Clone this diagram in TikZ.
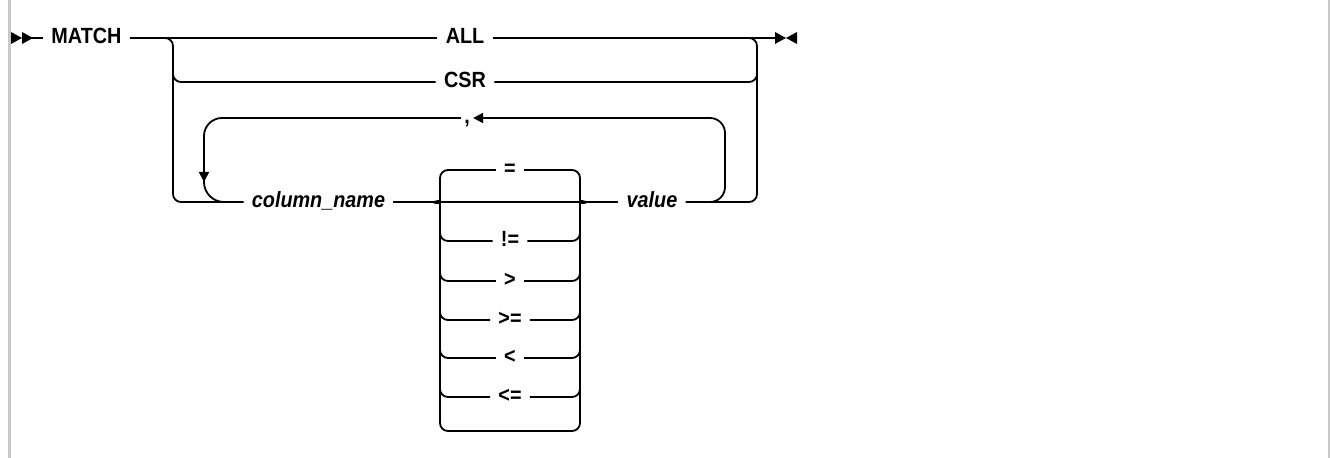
\documentclass[tikz,border=0pt]{standalone}
\usepackage{fontspec}
\setmainfont{Liberation Sans}[FakeStretch=0.9]
\usetikzlibrary{arrows.meta}
\newcommand\rrfont{\fontsize{11}{13}\selectfont\bfseries}
\definecolor{barc}{RGB}{200,200,200}
\begin{document}
\begin{tikzpicture}[x=0.5pt,y=-0.5pt,
  rr/.style={line width=0.9pt, rounded corners=4pt},
  lbl/.style={font=\rrfont, inner xsep=4pt, inner ysep=0pt, text height=7.9pt, text depth=1.9pt},
  var/.style={lbl, font=\rrfont\itshape},
  tipd/.style={-{Triangle[length=5pt,width=5pt]}}]
\useasboundingbox (0,0) rectangle (1330,458);
\fill[white] (0,0) rectangle (1330,458);
\fill[barc] (8,0) rectangle (11,458);
\fill[barc] (1328,0) rectangle (1330,458);

% labels
\node[lbl] (match) at (86.5,38) {MATCH};
\node[lbl] (all) at (465,38) {ALL};
\node[lbl] (csr) at (465,82) {CSR};
\node[lbl, inner xsep=1.5pt] (comma) at (467,118) {,};
\node[var] (col) at (318.5,202) {column\_name};
\node[var] (val) at (652,202) {value};
\node[lbl] (o1) at (510,170) {=};
\node[lbl] (o2) at (510,241) {!=};
\node[lbl] (o3) at (510,281) {>};
\node[lbl] (o4) at (510,320) {>=};
\node[lbl] (o5) at (510,358) {<};
\node[lbl] (o6) at (510,397) {<=};
\coordinate (tipL) at (433,202);
\coordinate (tipR) at (587,202);

% start and end markers
\fill (11,32) -- (22,38) -- (11,44) -- cycle;
\fill (22,32) -- (33,38) -- (22,44) -- cycle;
\fill (775,32) -- (786,38) -- (775,44) -- cycle;
\fill (797,32) -- (786,38) -- (797,44) -- cycle;

% main line
\draw[rr] (22,38) -- (match.west);
\draw[rr] (match.east) -- (all.west);
\draw[rr] (all.east) -- (776,38);

% outer choice
\draw[rr] (160,38) -- (173,38) -- (173,202) -- (col.west);
\draw[rr] (173,60) -- (173,82) -- (csr.west);
\draw[rr] (csr.east) -- (757,82) -- (757,60);
\draw[rr] (val.east) -- (757,202) -- (757,38) -- (740,38);

% repeat loop
\draw[line width=0.9pt, rounded corners=7.5pt, tipd] (690,202) -- (725,202) -- (725,118) -- (comma.east);
\draw[line width=0.9pt, rounded corners=9pt, tipd] (comma.west) -- (204,118) -- (204,182);
\draw[line width=0.9pt, rounded corners=10pt] (204,178) -- (204,202) -- (232,202);

% operator choice
\draw[rr] (col.east) -- (val.west);
\draw[rr] (tipL) to[out=0,in=-90] (440,195) -- (440,170) -- (o1.west);
\draw[rr] (o1.east) -- (580,170) -- (580,195) to[out=-90,in=180] (tipR);
\foreach \n/\y in {o2/241,o3/281,o4/320,o5/358,o6/397} {
  \draw[rr] (tipL) to[out=0,in=90] (440,209) -- (440,\y) -- (\n.west);
  \draw[rr] (\n.east) -- (580,\y) -- (580,209) to[out=90,in=180] (tipR);
}
\draw[rr] (tipL) to[out=0,in=90] (440,209) -- (440,431) -- (580,431) -- (580,209) to[out=90,in=180] (tipR);
\end{tikzpicture}
\end{document}
